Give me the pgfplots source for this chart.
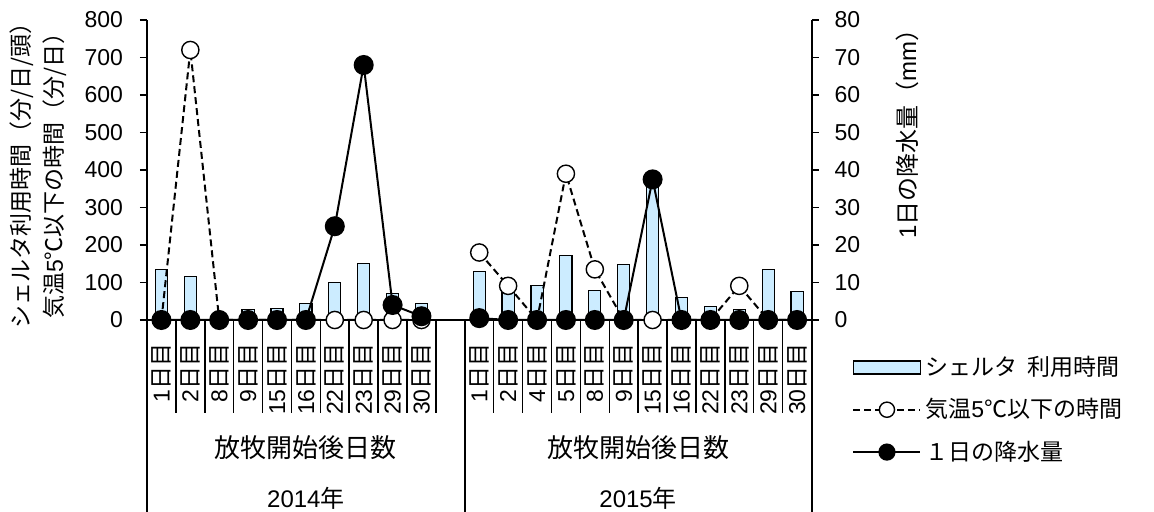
\documentclass[border=0pt]{standalone}
\usepackage{fontspec}
\usepackage{pgfplots}
\pgfplotsset{compat=1.18}
\setmainfont{Liberation Sans}
\newfontfamily\jp{Noto Sans CJK JP}
\definecolor{barblue}{RGB}{204,236,255}
\newcommand{\DM}[1]{#1{\jp 日目}}
\pgfplotsset{
  midmark legend/.style={
    legend image code/.code={
      \draw[mark repeat=2,mark phase=2,##1] plot coordinates {(0pt,0pt) (16.75pt,0pt) (33.5pt,0pt)};
    }
  },
  barswatch legend/.style={
    legend image code/.code={
      \draw[fill=barblue,draw=black,line width=0.7pt] (0pt,-3.25pt) rectangle (33.5pt,3.25pt);
    }
  }
}
\begin{document}
\begin{tikzpicture}[font=\fontsize{11.5}{14}\selectfont]
\useasboundingbox (0,0) rectangle (577pt,256pt);
\begin{axis}[
  at={(73.5pt,96pt)}, anchor=south west,
  scale only axis, width=332.25pt, height=150pt,
  xmin=-0.5, xmax=22.5, ymin=0, ymax=800,
  clip=false,
  axis x line*=bottom, axis y line*=left,
  axis line style={line width=1pt, black},
  xtick={0,1,2,3,4,5,6,7,8,9,11,12,13,14,15,16,17,18,19,20,21,22},
  xticklabels={\DM{1},\DM{2},\DM{8},\DM{9},\DM{15},\DM{16},\DM{22},\DM{23},\DM{29},\DM{30},\DM{1},\DM{2},\DM{4},\DM{5},\DM{8},\DM{9},\DM{15},\DM{16},\DM{22},\DM{23},\DM{29},\DM{30}},
  xticklabel style={yshift=-8pt, rotate=90, anchor=east, inner sep=0pt},
  xtick style={draw=none},
  ytick={0,100,...,800},
  tick align=outside, major tick length=3.5pt,
  ytick style={line width=0.8pt, black},
  yticklabel style={xshift=-5pt},
  /pgf/number format/assume math mode=true,
  ylabel={{\jp シェルタ利用時間（分/日/頭）}\\{\jp 気温}5{\jp ℃以下の時間（分/日）}},
  ylabel style={align=center, at={(axis description cs:-0.1633,0.5)}, anchor=center, font=\fontsize{11.5}{16.5}\selectfont},
]
\addplot[ybar, bar width=0.42, fill=barblue, draw=black, line width=0.6pt] coordinates {
 (0,135) (1,117) (2,10) (3,28) (4,31) (5,43) (6,100) (7,151) (8,71) (9,44)
 (11,129) (12,76) (13,93) (14,173) (15,78) (16,147) (17,370) (18,60) (19,36) (20,28) (21,135) (22,77)};
\addplot[black, line width=1pt, dash pattern=on 3.5pt off 2pt, mark=*, mark size=4.3pt,
  mark options={solid, fill=white, draw=black, line width=0.7pt}, unbounded coords=jump] coordinates {
 (0,0) (1,720) (2,0) (3,0) (4,0) (5,0) (6,0) (7,0) (8,0) (9,0) (10,nan)
 (11,180) (12,91) (13,0) (14,390) (15,135) (16,0) (17,0) (18,0) (19,0) (20,91) (21,0) (22,0)};
\pgfplotsinvokeforeach{0.5,1.5,2.5,3.5,4.5,5.5,6.5,7.5,8.5,9.5,11.5,12.5,13.5,14.5,15.5,16.5,17.5,18.5,19.5,20.5,21.5}{
  \draw[line width=0.75pt] (axis cs:#1,0) -- ++(0pt,-46.5pt);
}
\pgfplotsinvokeforeach{-0.5,10.5,22.5}{
  \draw[line width=1pt] (axis cs:#1,0) -- ++(0pt,-96pt);
}
\node[font=\fontsize{13}{15}\selectfont\jp, yshift=-64pt] at (axis cs:5,0) {放牧開始後日数};
\node[font=\fontsize{13}{15}\selectfont\jp, yshift=-64pt] at (axis cs:16.5,0) {放牧開始後日数};
\node[font=\fontsize{12}{14}\selectfont, yshift=-89pt] at (axis cs:5,0) {2014{\jp 年}};
\node[font=\fontsize{12}{14}\selectfont, yshift=-89pt] at (axis cs:16.5,0) {2015{\jp 年}};
\end{axis}
\begin{axis}[
  at={(73.5pt,96pt)}, anchor=south west,
  scale only axis, width=332.25pt, height=150pt,
  xmin=-0.5, xmax=22.5, ymin=0, ymax=80,
  clip=false,
  axis y line*=right, axis x line=none,
  axis line style={line width=1pt, black},
  ytick={0,10,...,80},
  tick align=outside, major tick length=3.5pt,
  ytick style={line width=0.8pt, black},
  yticklabel style={xshift=4.5pt},
  /pgf/number format/assume math mode=true,
  ylabel={1{\jp 日の降水量（}mm{\jp ）}},
  ylabel style={at={(axis description cs:1.1437,0.64)}, anchor=center, font=\fontsize{12}{14}\selectfont},
  legend style={at={(axis description cs:1.061,-0.106)}, anchor=north west, draw=none, fill=none,
    inner sep=0pt, row sep=6pt, nodes={inner sep=2pt}},
  legend cell align=left,
]
\addlegendimage{barswatch legend}
\addlegendentry{{\jp シェルタ\hspace{0.45em}利用時間}}
\addlegendimage{midmark legend, black, line width=1pt, dash pattern=on 3.5pt off 2pt, mark=*, mark size=3.8pt, mark options={solid, fill=white, draw=black, line width=0.7pt}}
\addlegendentry{{\jp 気温}5{\jp ℃以下の時間}}
\addlegendimage{midmark legend, black, line width=1pt, mark=*, mark size=3.8pt, mark options={solid, fill=black}}
\addlegendentry{{\jp １日の降水量}}
\addplot[forget plot, black, line width=1pt, mark=*, mark size=4.5pt, mark options={solid, fill=black}, unbounded coords=jump] coordinates {
 (0,0) (1,0) (2,0) (3,0) (4,0) (5,0) (6,25) (7,68) (8,4) (9,1) (10,nan)
 (11,0.5) (12,0) (13,0) (14,0) (15,0) (16,0) (17,37.5) (18,0) (19,0) (20,0) (21,0) (22,0)};
\end{axis}
\end{tikzpicture}
\end{document}
